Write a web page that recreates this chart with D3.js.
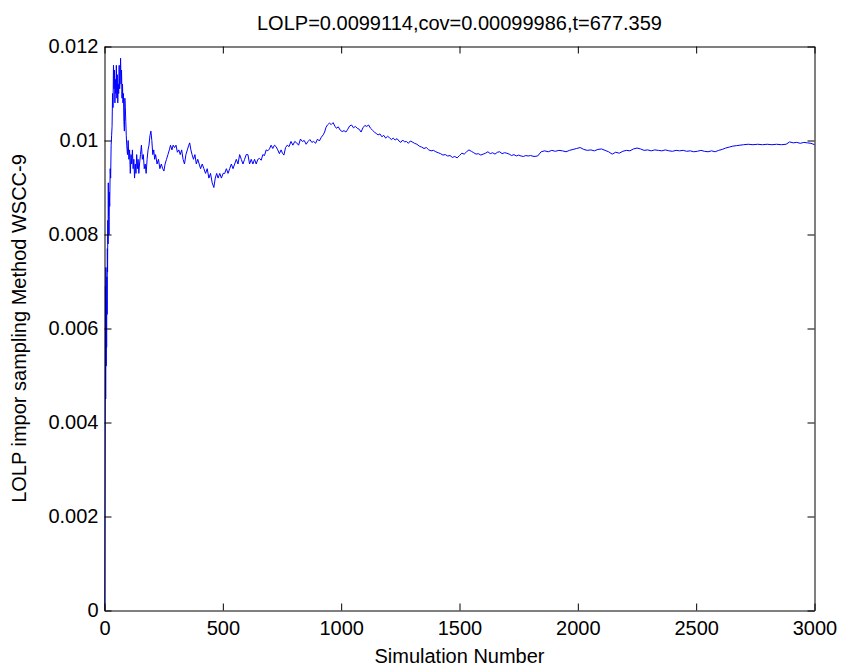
<!DOCTYPE html>
<html>
<head>
<meta charset="utf-8">
<script src="https://cdn.jsdelivr.net/npm/d3@7"></script>
<style>
  html, body { margin: 0; padding: 0; background: #ffffff; }
  svg { display: block; }
  text { font-family: "Liberation Sans", Arial, sans-serif; fill: #000; }
</style>
</head>
<body>
<svg id="chart" width="841" height="667"></svg>
<script>
// Running LOLP estimate versus number of simulations (importance sampling, WSCC-9)
const simN = [
  1, 3, 4, 5, 6, 7, 8, 9, 10, 11, 12, 13, 14, 15, 16, 17, 18, 19, 20, 22,
  24, 26, 28, 30, 32, 34, 36, 38, 40, 42, 44, 46, 48, 50, 52, 54, 56, 58, 60, 62,
  64, 66, 68, 70, 72, 74, 76, 78, 80, 82, 84, 86, 88, 90, 92, 94, 97, 100, 103, 106,
  109, 112, 115, 118, 121, 124, 127, 130, 133, 136, 139, 142, 145, 148, 152, 156, 160, 164, 168, 172,
  176, 180, 184, 188, 192, 196, 200, 204, 208, 212, 216, 222, 228, 234, 240, 246, 251, 256, 262, 268,
  274, 279, 285, 290, 296, 302, 308, 314, 320, 326, 332, 338, 344, 350, 356, 360, 365, 370, 376, 382,
  388, 394, 400, 406, 413, 420, 427, 434, 441, 448, 455, 462, 468, 474, 480, 487, 494, 501, 508, 515,
  522, 529, 536, 543, 550, 557, 564, 571, 578, 585, 592, 599, 606, 613, 620, 627, 634, 641, 648, 655,
  662, 669, 676, 683, 690, 697, 704, 711, 718, 725, 732, 739, 746, 752, 758, 765, 772, 780, 788, 796,
  804, 812, 820, 828, 836, 844, 852, 860, 868, 876, 884, 892, 900, 908, 916, 924, 930, 936, 942, 950,
  958, 966, 974, 980, 988, 996, 1004, 1012, 1020, 1028, 1036, 1044, 1052, 1060, 1068, 1076, 1084, 1092, 1100, 1108,
  1116, 1124, 1132, 1140, 1148, 1156, 1164, 1172, 1180, 1188, 1196, 1204, 1212, 1220, 1228, 1236, 1244, 1252, 1260, 1268,
  1276, 1284, 1292, 1300, 1310, 1320, 1330, 1340, 1350, 1360, 1370, 1380, 1390, 1400, 1410, 1420, 1430, 1440, 1450, 1460,
  1470, 1480, 1490, 1500, 1510, 1520, 1530, 1540, 1550, 1560, 1570, 1580, 1590, 1600, 1610, 1620, 1630, 1640, 1650, 1660,
  1670, 1680, 1690, 1700, 1710, 1720, 1730, 1740, 1750, 1760, 1770, 1780, 1790, 1800, 1815, 1830, 1845, 1860, 1875, 1890,
  1905, 1920, 1935, 1950, 1965, 1980, 1995, 2010, 2025, 2040, 2055, 2070, 2085, 2100, 2115, 2130, 2145, 2160, 2175, 2190,
  2205, 2220, 2235, 2250, 2265, 2280, 2295, 2310, 2325, 2340, 2355, 2370, 2385, 2400, 2415, 2430, 2445, 2460, 2475, 2490,
  2505, 2520, 2535, 2550, 2565, 2580, 2595, 2610, 2625, 2640, 2655, 2670, 2685, 2700, 2720, 2740, 2760, 2780, 2800, 2820,
  2840, 2860, 2880, 2895, 2910, 2925, 2940, 2955, 2970, 2985, 3000
];
const lolpEst = [
  0, 0.0040, 0.0069, 0.0045, 0.0073, 0.0052, 0.0066, 0.0056, 0.0071, 0.0063, 0.0077, 0.0072, 0.0083, 0.0078, 0.0091, 0.0084, 0.0087, 0.0080, 0.0089, 0.0086,
  0.0094, 0.0092, 0.0099, 0.0101, 0.0103, 0.0110, 0.0107, 0.0116, 0.0111, 0.0115, 0.0108, 0.0113, 0.0110, 0.0116, 0.0109, 0.0114, 0.0108, 0.0112, 0.0110, 0.0116,
  0.0111, 0.0113, 0.01175, 0.0112, 0.0115, 0.0109, 0.0112, 0.0108, 0.0110, 0.0104, 0.0102, 0.0109, 0.0107, 0.0104, 0.0101, 0.0099, 0.0097, 0.0100, 0.0096, 0.0098,
  0.0093, 0.0097, 0.0095, 0.0098, 0.0094, 0.0096, 0.0092, 0.0095, 0.0093, 0.0097, 0.0094, 0.0096, 0.0093, 0.0095, 0.0097, 0.0099, 0.0096, 0.0097, 0.0094, 0.0095,
  0.0093, 0.0096, 0.0098, 0.0099, 0.0101, 0.0102, 0.0100, 0.0097, 0.0098, 0.0096, 0.0097, 0.0095, 0.0096, 0.0094, 0.0095, 0.0094, 0.00935, 0.0095, 0.0096, 0.0097,
  0.0098, 0.0099, 0.0098, 0.0099, 0.00985, 0.0099, 0.00975, 0.0098, 0.0097, 0.0098, 0.0096, 0.0095, 0.0097, 0.0098, 0.0099, 0.00995, 0.0098, 0.0097, 0.0096, 0.0097,
  0.0095, 0.0096, 0.0095, 0.0094, 0.0095, 0.0094, 0.0093, 0.0094, 0.0092, 0.0093, 0.0091, 0.0090, 0.0092, 0.0093, 0.0092, 0.0093, 0.0092, 0.0093, 0.0093, 0.0094,
  0.0093, 0.0094, 0.0095, 0.0094, 0.0095, 0.0096, 0.0095, 0.0097, 0.0096, 0.0095, 0.0096, 0.0097, 0.0097, 0.0095, 0.0096, 0.0095, 0.0096, 0.0095, 0.0096, 0.00962,
  0.00958, 0.0097, 0.00968, 0.0098, 0.00978, 0.00982, 0.0099, 0.00983, 0.0099, 0.00987, 0.0098, 0.00972, 0.0098, 0.00973, 0.00969, 0.00985, 0.0099, 0.00987, 0.00998, 0.0099,
  0.00998, 0.00995, 0.0099, 0.01003, 0.00998, 0.01, 0.00992, 0.00998, 0.01002, 0.00996, 0.00998, 0.00994, 0.01003, 0.00999, 0.01007, 0.01012, 0.01018, 0.01028, 0.01033, 0.01037,
  0.01034, 0.01038, 0.0103, 0.01026, 0.01029, 0.01022, 0.01019, 0.01021, 0.01018, 0.01024, 0.01031, 0.01033, 0.01027, 0.0103, 0.01026, 0.01024, 0.01018, 0.01027, 0.01032, 0.0103,
  0.01033, 0.01026, 0.01022, 0.01018, 0.01015, 0.01012, 0.01014, 0.01008, 0.01011, 0.01005, 0.01009, 0.01006, 0.01002, 0.01005, 0.01001, 0.01004, 0.00999, 0.00996, 0.01001, 0.00997,
  0.00998, 0.00994, 0.00999, 0.00997, 0.00994, 0.00992, 0.00988, 0.00986, 0.00983, 0.00985, 0.0098, 0.00978, 0.00979, 0.00976, 0.00974, 0.00972, 0.00969, 0.0097, 0.00967, 0.00968,
  0.00964, 0.00966, 0.00963, 0.00968, 0.00973, 0.00971, 0.00976, 0.0098, 0.00977, 0.00974, 0.00971, 0.00972, 0.00969, 0.00971, 0.00973, 0.00976, 0.00972, 0.00974, 0.00971, 0.00975,
  0.00976, 0.00972, 0.00974, 0.00973, 0.00971, 0.00968, 0.0097, 0.00967, 0.00969, 0.00967, 0.00966, 0.00968, 0.00967, 0.00968, 0.00966, 0.00967, 0.00976, 0.00978, 0.00976, 0.00979,
  0.00977, 0.00979, 0.00978, 0.00976, 0.00979, 0.00981, 0.00983, 0.00985, 0.00981, 0.00979, 0.0098, 0.00978, 0.00981, 0.00982, 0.00979, 0.00976, 0.00971, 0.00975, 0.00973, 0.00977,
  0.00979, 0.00978, 0.00982, 0.00984, 0.00982, 0.00979, 0.0098, 0.00978, 0.0098, 0.00979, 0.00978, 0.0098, 0.00978, 0.00977, 0.00979, 0.00978, 0.00979, 0.00977, 0.00978, 0.00976,
  0.00977, 0.00979, 0.00977, 0.00976, 0.00978, 0.00976, 0.00979, 0.00981, 0.00984, 0.00986, 0.00988, 0.00989, 0.0099, 0.00991, 0.00992, 0.00991, 0.00992, 0.00991, 0.00992, 0.00991,
  0.00992, 0.00991, 0.00992, 0.00997, 0.00995, 0.00996, 0.00994, 0.00996, 0.00995, 0.00994, 0.0099114
];
const xTickValues = [0, 500, 1000, 1500, 2000, 2500, 3000];
const yTickValues = [0, 0.002, 0.004, 0.006, 0.008, 0.01, 0.012];
const yTickLabels = ["0", "0.002", "0.004", "0.006", "0.008", "0.01", "0.012"];
const titleText = "LOLP=0.0099114,cov=0.00099986,t=677.359";
const xLabel = "Simulation Number";
const yLabel = "LOLP impor sampling Method WSCC-9";

const svg = d3.select("#chart");
const plotLeft = 104.5, plotRight = 814.5, plotTop = 46.5, plotBottom = 610.5;
const fontSize = 20;
const tickLen = 7;

const x = d3.scaleLinear().domain([0, 3000]).range([plotLeft, plotRight]);
const y = d3.scaleLinear().domain([0, 0.012]).range([plotBottom, plotTop]);

// data line
const points = simN.map((n, i) => [n, lolpEst[i]]);
const line = d3.line().x(d => x(d[0])).y(d => y(d[1]));
svg.append("path")
  .datum(points)
  .attr("d", line)
  .attr("fill", "none")
  .attr("stroke", "#0000ff")
  .attr("stroke-width", 1)
  .attr("stroke-linejoin", "round");

// axes with inward ticks on all four sides
function styleAxis(g) {
  g.attr("font-family", null).attr("font-size", null);
  g.selectAll(".domain").attr("stroke", "#000").attr("stroke-width", 1);
  g.selectAll(".tick line").attr("stroke", "#000").attr("stroke-width", 1);
  g.selectAll(".tick text")
    .attr("font-family", "\"Liberation Sans\", Arial, sans-serif")
    .attr("font-size", fontSize)
    .attr("fill", "#000");
}

svg.append("g")
  .attr("transform", `translate(0,${plotBottom})`)
  .call(d3.axisBottom(x).tickValues(xTickValues).tickFormat(d3.format("d"))
    .tickSizeInner(-tickLen).tickSizeOuter(0).tickPadding(10))
  .call(styleAxis);

svg.append("g")
  .attr("transform", `translate(0,${plotTop})`)
  .call(d3.axisTop(x).tickValues(xTickValues).tickFormat("")
    .tickSizeInner(-tickLen).tickSizeOuter(0))
  .call(styleAxis);

svg.append("g")
  .attr("transform", `translate(${plotLeft},0)`)
  .call(d3.axisLeft(y).tickValues(yTickValues).tickFormat((d, i) => yTickLabels[i])
    .tickSizeInner(-tickLen).tickSizeOuter(0).tickPadding(6))
  .call(styleAxis);

svg.append("g")
  .attr("transform", `translate(${plotRight},0)`)
  .call(d3.axisRight(y).tickValues(yTickValues).tickFormat("")
    .tickSizeInner(-tickLen).tickSizeOuter(0))
  .call(styleAxis);

// title and axis labels
svg.append("text")
  .attr("x", (plotLeft + plotRight) / 2)
  .attr("y", 30)
  .attr("text-anchor", "middle")
  .attr("font-size", fontSize)
  .text(titleText);

svg.append("text")
  .attr("x", (plotLeft + plotRight) / 2)
  .attr("y", 663)
  .attr("text-anchor", "middle")
  .attr("font-size", fontSize)
  .text(xLabel);

svg.append("text")
  .attr("transform", `translate(26,${(plotTop + plotBottom) / 2}) rotate(-90)`)
  .attr("text-anchor", "middle")
  .attr("font-size", fontSize)
  .text(yLabel);
</script>
</body>
</html>
